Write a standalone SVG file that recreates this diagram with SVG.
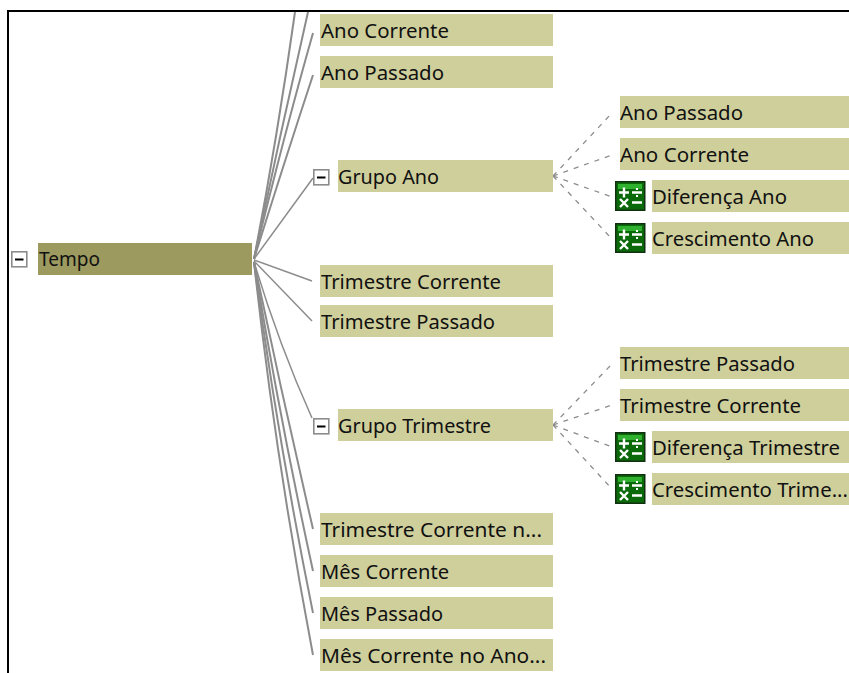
<svg xmlns="http://www.w3.org/2000/svg" width="849" height="673" viewBox="0 0 849 673">
<style>
.n{fill:#cfcf9c}
.r{fill:#9c9a5f}
text{font-family:"Noto Sans","Liberation Sans",Arial,sans-serif;font-size:19px;fill:#111}
.c path{fill:none;stroke:#8c8c8c;stroke-width:2}
.e path{fill:none;stroke:#8c8c8c;stroke-width:1.5}
.d path{fill:none;stroke:#8c8c8c;stroke-width:1.3;stroke-dasharray:5 6}
.b{fill:#fff;stroke:#8c8c8c;stroke-width:1.6}
.m{stroke:#000;stroke-width:2}
.i{fill:#0a6a0a;stroke:#103010;stroke-width:1.5}
.p{stroke:#fff;stroke-width:2.4;fill:none}
</style>
<defs>
<g id="minus"><rect class="b" x="0.8" y="0.8" width="15" height="15"/><path class="m" d="M4 8.5H12.5"/></g>
<g id="calc"><rect class="i" x="0.75" y="0.75" width="29" height="28.5"/><path fill="#2fb02f" d="M3 3H27V8H3z"/><path class="p" d="M4 11.5H14M9 6.5V16.5M17 11.5H27M5 18L13 26M13 18L5 26M17 21.5H27"/><path fill="#fff" d="M21 7h2v2h-2zM21 14h2v2h-2z"/></g>
</defs>
<path d="M8 673V11H849" fill="none" stroke="#000" stroke-width="2"/>
<g class="c" id="connectors">
<path d="M254 259Q277 140 295 12"/>
<path d="M254 259Q280 135 308 12"/>
<path d="M254 259Q284 135 313 33"/>
<path d="M254 259Q285 160 313 75"/>
<path d="M254 262Q282 395 313 529"/>
<path d="M254 262Q279 415 313 571"/>
<path d="M254 262Q277 435 313 613"/>
<path d="M254 262Q275 455 313 655"/>
</g>
<g class="e" id="connectors-thin">
<path d="M254 259L313 178"/>
<path d="M254 260L312 281"/>
<path d="M254 261L312 321"/>
<path d="M254 262Q279 345 312 418"/>
</g>
<g class="d" id="connectors-dashed">
<path d="M553 176L612 113"/><path d="M553 176L612 155"/><path d="M553 176L612 197"/><path d="M553 176L612 239"/>
<path d="M553 425L612 364"/><path d="M553 425L612 405"/><path d="M553 425L612 447"/><path d="M553 425L612 489"/>
</g>
<g id="tempo"><use href="#minus" x="11" y="251"/><rect class="r" x="38" y="243" width="214" height="32"/><text x="39" y="266" textLength="61" lengthAdjust="spacingAndGlyphs">Tempo</text></g>
<g id="ano-corrente"><rect class="n" x="320" y="14" width="233" height="32"/><text x="321" y="38" textLength="128" lengthAdjust="spacingAndGlyphs">Ano Corrente</text></g>
<g id="ano-passado"><rect class="n" x="320" y="56" width="233" height="32"/><text x="321" y="80" textLength="123" lengthAdjust="spacingAndGlyphs">Ano Passado</text></g>
<g id="grupo-ano"><use href="#minus" x="313" y="169"/><rect class="n" x="338" y="160" width="215" height="32"/><text x="338" y="184" textLength="101" lengthAdjust="spacingAndGlyphs">Grupo Ano</text></g>
<g id="trimestre-corrente"><rect class="n" x="320" y="265" width="233" height="32"/><text x="321" y="289" textLength="180" lengthAdjust="spacingAndGlyphs">Trimestre Corrente</text></g>
<g id="trimestre-passado"><rect class="n" x="320" y="305" width="233" height="32"/><text x="321" y="329" textLength="174" lengthAdjust="spacingAndGlyphs">Trimestre Passado</text></g>
<g id="grupo-trimestre"><use href="#minus" x="313" y="418"/><rect class="n" x="338" y="409" width="215" height="32"/><text x="338" y="433" textLength="153" lengthAdjust="spacingAndGlyphs">Grupo Trimestre</text></g>
<g id="trimestre-corrente-n"><rect class="n" x="320" y="513" width="233" height="32"/><text x="321" y="537" textLength="221" lengthAdjust="spacingAndGlyphs">Trimestre Corrente n...</text></g>
<g id="mes-corrente"><rect class="n" x="320" y="555" width="233" height="32"/><text x="321" y="579" textLength="128" lengthAdjust="spacingAndGlyphs">Mês Corrente</text></g>
<g id="mes-passado"><rect class="n" x="320" y="597" width="233" height="32"/><text x="321" y="621" textLength="122" lengthAdjust="spacingAndGlyphs">Mês Passado</text></g>
<g id="mes-corrente-ano"><rect class="n" x="320" y="639" width="233" height="32"/><text x="321" y="663" textLength="225" lengthAdjust="spacingAndGlyphs">Mês Corrente no Ano...</text></g>
<g id="ano-passado-2"><rect class="n" x="620" y="96" width="229" height="32"/><text x="620" y="120" textLength="123" lengthAdjust="spacingAndGlyphs">Ano Passado</text></g>
<g id="ano-corrente-2"><rect class="n" x="620" y="138" width="229" height="32"/><text x="620" y="162" textLength="129" lengthAdjust="spacingAndGlyphs">Ano Corrente</text></g>
<g id="diferenca-ano"><use href="#calc" x="615" y="181"/><rect class="n" x="652" y="180" width="197" height="32"/><text x="652" y="204" textLength="135" lengthAdjust="spacingAndGlyphs">Diferença Ano</text></g>
<g id="crescimento-ano"><use href="#calc" x="615" y="223"/><rect class="n" x="652" y="222" width="197" height="32"/><text x="652" y="246" textLength="162" lengthAdjust="spacingAndGlyphs">Crescimento Ano</text></g>
<g id="trimestre-passado-2"><rect class="n" x="620" y="347" width="229" height="32"/><text x="620" y="371" textLength="175" lengthAdjust="spacingAndGlyphs">Trimestre Passado</text></g>
<g id="trimestre-corrente-2"><rect class="n" x="620" y="389" width="229" height="32"/><text x="620" y="413" textLength="181" lengthAdjust="spacingAndGlyphs">Trimestre Corrente</text></g>
<g id="diferenca-trimestre"><use href="#calc" x="615" y="432"/><rect class="n" x="652" y="431" width="197" height="32"/><text x="652" y="455" textLength="188" lengthAdjust="spacingAndGlyphs">Diferença Trimestre</text></g>
<g id="crescimento-trimestre"><use href="#calc" x="615" y="474"/><rect class="n" x="652" y="473" width="197" height="32"/><text x="652" y="497" textLength="196" lengthAdjust="spacingAndGlyphs">Crescimento Trime...</text></g>
</svg>
